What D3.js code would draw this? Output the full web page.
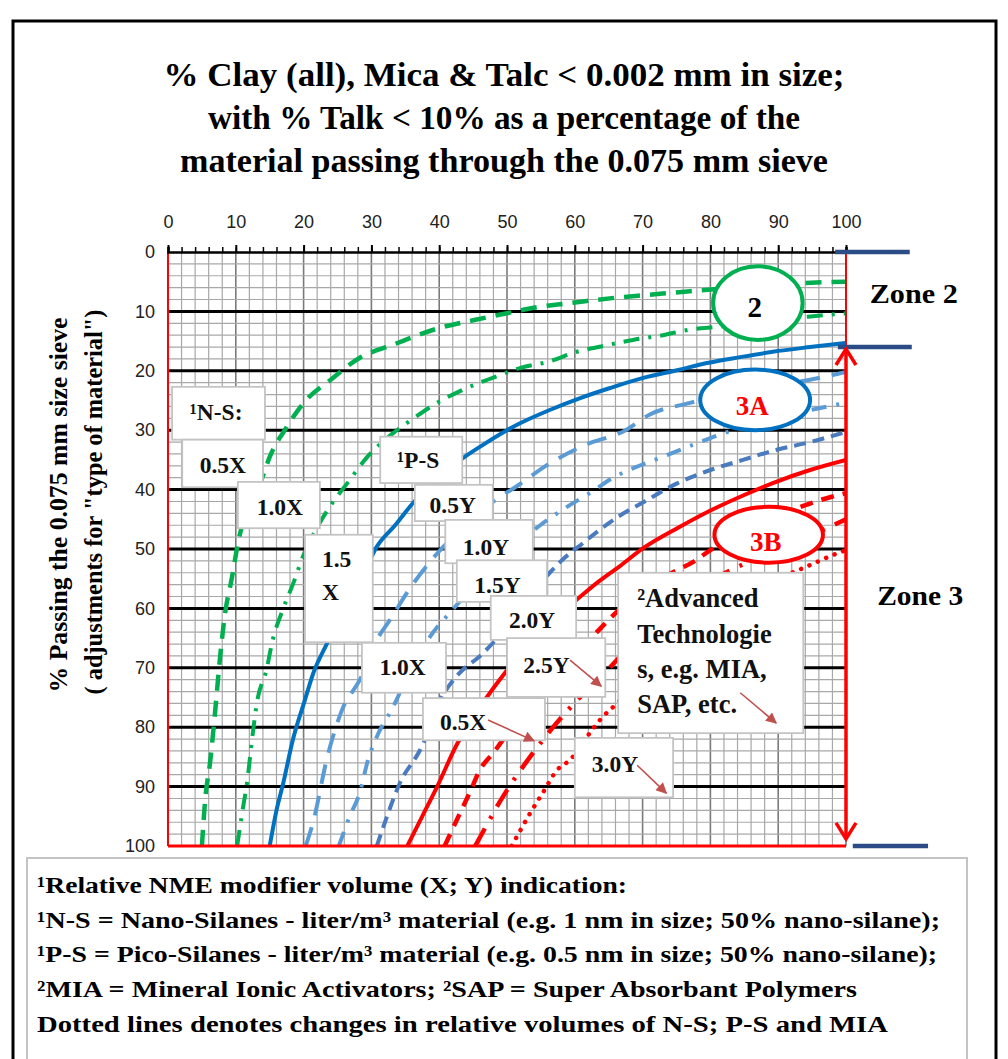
<!DOCTYPE html>
<html><head><meta charset="utf-8">
<script src="https://cdn.jsdelivr.net/npm/d3@7"></script>
<style>body{margin:0;background:#fff}svg{display:block}</style>
</head><body>
<svg id="c" width="1008" height="1059"></svg>
<script>
// ---------------- DATA ----------------
const xTickValues = [0,10,20,30,40,50,60,70,80,90,100];
const yTickValues = [0,10,20,30,40,50,60,70,80,90,100];

// [% clay etc. (x), % passing 0.075 mm (y)]
const nsHalfX   = [[5,100],[5.5,92],[6.2,86],[6.9,78],[7.7,68],[8.4,61],[9.4,55],[10.5,48],[12,43],[13.9,38],[15,34.5],[17.5,29.5],[20,25.4],[24,21.5],[28.3,17.8],[33,15.7],[40,12.8],[45,11.5],[50,10.3],[55,9.2],[60,8.5],[66,7.7],[71,7.2],[77,6.6],[85,5.9],[94,5.2],[100,5]];
const nsOneX    = [[10.2,100],[11,94],[11.7,89],[12.4,82],[13.1,76],[14.6,70],[15.3,66],[17,60],[18.4,56],[20,51],[21.7,47],[24.2,42.3],[26.4,39],[29.4,34.5],[33.2,30.5],[36.1,28.1],[39.7,25.4],[43.5,23.2],[49,20.7],[52,19.5],[56,18.5],[60.3,16.8],[64.7,15.7],[68.6,14.8],[73,14],[77.3,13],[81,12.6],[88,11.7],[94.4,10.9],[100,10.3]];
const nsOneHalfX= [[15,100],[16,94],[17,89.4],[18.4,82.2],[20.2,75.4],[21.4,71],[23.5,65.8],[26,60],[28.5,55],[30.8,49.6],[33.5,46],[36.1,42.3],[40,38],[43.5,34.7],[46,32.8],[50,30],[52,28.8],[56.3,26.6],[60.8,24.6],[65.2,22.9],[70.1,21.2],[75.1,19.9],[79.5,18.7],[84.4,17.7],[89.2,16.8],[94.7,16],[100,15.3]];
const psHalfY   = [[20.3,100],[21.4,96],[23.5,85],[25.7,77],[28.3,72],[30.8,65.3],[32.7,62],[35.7,56.6],[39.9,50.5],[44,46],[48.2,41.8],[51.5,39.4],[56,35.8],[61.5,32.5],[67.5,30],[71,27.4],[77,25.4],[84,23.5],[90.3,22.4],[94.7,21.5],[100,20.2]];
const psOneY    = [[25.2,100],[26.8,95],[28.3,91],[29.5,85.5],[30.8,81.6],[33.2,76.6],[35.5,71],[38.5,65],[42.3,59.8],[46,55],[50,50.5],[54.9,46],[58.3,43.3],[62.2,40.6],[65.8,37.9],[69.7,35.9],[73.6,34.2],[78,32.2],[82,30.5],[88,28.5],[94,26.8],[100,25.4]];
const psOneHalfY= [[30.8,100],[32,96],[34.2,89.4],[37.2,83.8],[40.6,74.5],[42.5,71.5],[46.5,67.5],[50,63],[53,58],[56.3,54],[58,52],[61.2,49],[64,46.5],[66.5,44.5],[70.3,42],[75,39],[80,36.7],[84.8,35],[89.8,33.3],[94.7,32],[100,30.3]];
const psTwoY    = [[35.3,100],[37.5,95],[39.7,90],[42.7,82.7],[45,78.5],[47,75],[50,70.4],[53,66],[56.5,62],[60.4,58.4],[63.5,55.5],[66.5,53],[70.3,49.7],[75.1,46.5],[79.5,43.8],[84.4,41.2],[89.2,38.9],[94.7,36.7],[100,35]];
const psTwoHalfY= [[40.8,100],[42.6,95.6],[44.5,91],[46,87.2],[48,84.3],[52,78],[56,73],[60,68],[64,63.1],[66.2,60.6],[70,57],[74,54.2],[77.4,52.2],[80,50.2],[84,47.5],[88,45.3],[92.8,43.1],[97.9,41.2],[100,40.6]];
const mia       = [[45.3,100],[47,96.5],[48.5,93.4],[50,90.6],[53.4,85],[56.8,80],[60.8,74.9],[65.2,69.9],[68,66.5],[72,62],[76,58],[80,55.3],[84.8,52.6],[90,50],[96.6,46.8],[100,45]];
const psThreeY  = [[50.7,100],[53.4,94.5],[55.3,91],[57.4,87.2],[59.3,85.5],[62.2,81],[63.7,78.8],[66.2,76],[70,71.5],[75,66],[80,61],[86,57],[93.7,53.2],[98.8,50.7],[100,50.2]];

const seriesData = [nsHalfX, nsOneX, nsOneHalfX, psHalfY, psOneY, psOneHalfY, psTwoY, psTwoHalfY, mia, psThreeY];

const titleLines = ["% Clay (all), Mica & Talc < 0.002 mm in size;","with % Talk < 10% as a percentage of the","material passing through the 0.075 mm sieve"];
const yTitleLines = ["% Passing the 0.075 mm size sieve","( adjustments for \"type of material\")"];
const noteLines = ["¹Relative NME modifier volume (X; Y) indication:","¹N-S = Nano-Silanes - liter/m³ material (e.g. 1 nm in size; 50% nano-silane);","¹P-S = Pico-Silanes - liter/m³ material (e.g. 0.5 nm in size; 50% nano-silane);","²MIA = Mineral Ionic Activators; ²SAP = Super Absorbant Polymers","Dotted lines denotes changes in relative volumes of N-S; P-S and MIA"];
const zoneLabels = ["Zone 2","Zone 3"];
const ellipseLabels = ["2","3A","3B"];
const boxLabels = [["¹N-S:"],["0.5X"],["1.0X"],["¹P-S"],["0.5Y"],["1.0Y"],["1.5Y"],["2.0Y"],["2.5Y"],["1.5","X"],["1.0X"],["0.5X"],["²Advanced","Technologie","s, e.g. MIA,","SAP, etc."],["3.0Y"]];

// ---------------- STYLES / LAYOUT ----------------
const seriesStyle = [
  {c:"#00B050", w:4.5, d:"16,10"},
  {c:"#00B050", w:4,   d:"16,9,3,9"},
  {c:"#0070C0", w:4,   d:null},
  {c:"#5B9BD5", w:4,   d:"20,12"},
  {c:"#5B9BD5", w:4,   d:"15,10,3,10"},
  {c:"#4A7BBF", w:4,   d:"12,7"},
  {c:"#FF0000", w:4,   d:null},
  {c:"#FF0000", w:4.5, d:"13,9"},
  {c:"#FF0000", w:4.5, d:"20,11,3,11"},
  {c:"#FF0000", w:4.5, d:"0.1,9", cap:"round"}
];
const boxLayout = [
  {b:[0.6,22.7,14.3,31.6], a:"middle", tx:7.1,  ty:[28.3]},
  {b:[2.1,31.6,14.0,39.6], a:"middle", tx:8.1,  ty:[37.2]},
  {b:[10.3,38.7,22.4,46.5],a:"middle", tx:16.5, ty:[44.3]},
  {b:[31.3,31.1,43.4,38.9],a:"middle", tx:36.9, ty:[36.4]},
  {b:[36.4,39.2,47.9,45.3],a:"middle", tx:42.0, ty:[43.9]},
  {b:[40.9,45.1,53.8,52.4],a:"middle", tx:46.9, ty:[51.0]},
  {b:[42.6,51.9,55.9,58.9],a:"middle", tx:48.6, ty:[57.4]},
  {b:[47.6,57.9,60.2,65.3],a:"middle", tx:53.7, ty:[63.3]},
  {b:[50.0,65.0,64.5,74.9],a:"start",  tx:52.4, ty:[70.9]},
  {b:[20.2,47.6,30.2,65.7],a:"start",  tx:22.7, ty:[53.0,58.6]},
  {b:[28.6,65.8,41.0,74.2],a:"middle", tx:34.6, ty:[71.2]},
  {b:[37.6,75.1,55.6,82.2],a:"start",  tx:40.1, ty:[80.5]},
  {b:[66.4,54.0,93.7,81.0],a:"start",  tx:69.2, ty:[59.8,65.8,71.7,77.6], fs:26.5},
  {b:[60.0,81.8,74.5,91.8],a:"start",  tx:62.5, ty:[87.5]}
];
const arrowLayout = [
  [[59.3,68.7],[63.9,73.1]],
  [[47.2,78.8],[54.0,82.3]],
  [[84.4,74.2],[89.7,79.3]],
  [[69.2,86.4],[73.5,91.1]]
];
const ellipseLayout = [
  {cx:87.0, cy:8.6,  rx:6.6, ry:6.2, c:"#00B050", tc:"#000", ty:10.9},
  {cx:86.6, cy:24.9, rx:8.1, ry:5.1, c:"#0070C0", tc:"#FF0000", ty:27.4},
  {cx:88.6, cy:47.6, rx:8.0, ry:4.7, c:"#FF0000", tc:"#FF0000", ty:50.3}
];

const x = d3.scaleLinear().domain([0,100]).range([168,846]);
const y = d3.scaleLinear().domain([0,100]).range([252,846]);
const serif = "Liberation Serif, serif";
const sans = "Liberation Sans, sans-serif";

const svg = d3.select("#c");

// outer frame
svg.append("rect").attr("x",13).attr("y",21).attr("width",983).attr("height",1100)
  .attr("fill","none").attr("stroke","#000").attr("stroke-width",3);

// title
svg.append("g").selectAll("text").data(titleLines).join("text")
  .attr("x",504).attr("y",(d,i)=>86+i*43)
  .attr("text-anchor","middle").attr("font-family",serif).attr("font-weight","bold")
  .attr("font-size",33).attr("textLength",(d,i)=>[681,592,648][i]).attr("lengthAdjust","spacingAndGlyphs")
  .text(d=>d);

// grid
const grid = svg.append("g");
const minor = d3.range(0,101,2);
grid.selectAll(".vm").data(minor).join("line")
  .attr("x1",d=>x(d)).attr("x2",d=>x(d)).attr("y1",y(0)).attr("y2",y(100))
  .attr("stroke",d=>d%10===0?"#7a7a7a":"#a8a8a8").attr("stroke-width",d=>d%10===0?1.6:1.2);
grid.selectAll(".hm").data(minor.filter(d=>d%10!==0)).join("line")
  .attr("x1",x(0)).attr("x2",x(100)).attr("y1",d=>y(d)).attr("y2",d=>y(d))
  .attr("stroke","#a8a8a8").attr("stroke-width",1.2);
grid.selectAll(".hM").data(yTickValues.filter(d=>d>0&&d<100)).join("line")
  .attr("x1",x(0)).attr("x2",x(100)).attr("y1",d=>y(d)).attr("y2",d=>y(d))
  .attr("stroke","#000").attr("stroke-width",3);

// clip
svg.append("clipPath").attr("id","plotclip").append("rect")
  .attr("x",x(0)).attr("y",y(0)).attr("width",x(100)-x(0)).attr("height",y(100)-y(0));

const line = d3.line().x(d=>x(d[0])).y(d=>y(d[1])).curve(d3.curveMonotoneX);
svg.append("g").attr("clip-path","url(#plotclip)").selectAll("path").data(seriesData).join("path")
  .attr("d",line).attr("fill","none")
  .attr("stroke",(d,i)=>seriesStyle[i].c).attr("stroke-width",(d,i)=>seriesStyle[i].w)
  .attr("stroke-dasharray",(d,i)=>seriesStyle[i].d).attr("stroke-linecap",(d,i)=>seriesStyle[i].cap||"butt");

// plot borders
svg.append("line").attr("x1",x(0)).attr("x2",x(0)).attr("y1",y(0)).attr("y2",y(100)).attr("stroke","#FF0000").attr("stroke-width",2);
svg.append("line").attr("x1",x(0)).attr("x2",x(100)).attr("y1",y(100)).attr("y2",y(100)).attr("stroke","#FF0000").attr("stroke-width",3);
svg.append("line").attr("x1",x(100)).attr("x2",x(100)).attr("y1",y(0)).attr("y2",y(16)).attr("stroke","#FF0000").attr("stroke-width",2);

// ellipses
const eg = svg.append("g");
eg.selectAll("ellipse").data(ellipseLayout).join("ellipse")
  .attr("cx",d=>x(d.cx)).attr("cy",d=>y(d.cy))
  .attr("rx",d=>x(d.rx)-x(0)).attr("ry",d=>y(d.ry)-y(0))
  .attr("fill","#fff").attr("stroke",d=>d.c).attr("stroke-width",4);
eg.selectAll("text").data(ellipseLayout).join("text")
  .attr("x",d=>x(d.cx)-3).attr("y",d=>y(d.ty)).attr("text-anchor","middle")
  .attr("font-family",serif).attr("font-weight","bold").attr("font-size",(d,i)=>i===0?29:27)
  .attr("fill",d=>d.tc).text((d,i)=>ellipseLabels[i]);

// label boxes
const bg = svg.append("g");
boxLayout.forEach((L,i)=>{
  const g = bg.append("g");
  g.append("rect").attr("x",x(L.b[0])).attr("y",y(L.b[1]))
    .attr("width",x(L.b[2])-x(L.b[0])).attr("height",y(L.b[3])-y(L.b[1]))
    .attr("fill","#fff").attr("stroke","#c4c4c4").attr("stroke-width",1.8);
  g.selectAll("text").data(boxLabels[i]).join("text")
    .attr("x",x(L.tx)).attr("y",(d,j)=>y(L.ty[j])).attr("text-anchor",L.a)
    .attr("font-family",serif).attr("font-weight","bold").attr("font-size",L.fs||23.5)
    .attr("fill","#111").text(d=>d);
});

// arrows
const defs = svg.append("defs");
defs.append("marker").attr("id","ah").attr("viewBox","0 0 10 10").attr("refX",9).attr("refY",5)
  .attr("markerWidth",13).attr("markerHeight",11).attr("markerUnits","userSpaceOnUse").attr("orient","auto")
  .append("path").attr("d","M0,0L10,5L0,10Z").attr("fill","#C0504D");
svg.append("g").selectAll("line").data(arrowLayout).join("line")
  .attr("x1",d=>x(d[0][0])).attr("y1",d=>y(d[0][1])).attr("x2",d=>x(d[1][0])).attr("y2",d=>y(d[1][1]))
  .attr("stroke","#C0504D").attr("stroke-width",1.6).attr("marker-end","url(#ah)");

// top axis
const ax = svg.append("g").attr("transform",`translate(0,${y(0)})`);
ax.call(d3.axisTop(x).tickValues(d3.range(0,101,2)).tickSize(5).tickFormat(""));
ax.call(g=>g.select(".domain").attr("stroke","#000").attr("stroke-width",2.5));
ax.selectAll(".tick line").attr("stroke","#000").attr("stroke-width",1.5);
const axL = svg.append("g").attr("transform",`translate(0,${y(0)})`)
  .call(d3.axisTop(x).tickValues(xTickValues).tickSize(7).tickPadding(17));
axL.select(".domain").remove();
axL.selectAll(".tick line").attr("stroke","#000").attr("stroke-width",2);
axL.selectAll("text").attr("font-family",sans).attr("font-size",18).attr("fill","#222");

// left axis labels
const ay = svg.append("g").attr("transform",`translate(${x(0)},0)`)
  .call(d3.axisLeft(y).tickValues(yTickValues).tickSize(0).tickPadding(13));
ay.select(".domain").remove();
ay.selectAll("text").attr("font-family",sans).attr("font-size",18).attr("fill","#222");

// y title
svg.append("g").selectAll("text").data(yTitleLines).join("text")
  .attr("transform",(d,i)=>`translate(${[67,102][i]},${[505,502][i]}) rotate(-90)`)
  .attr("text-anchor","middle").attr("font-family",serif).attr("font-weight","bold").attr("font-size",26)
  .attr("textLength",(d,i)=>[375,385][i]).attr("lengthAdjust","spacingAndGlyphs").text(d=>d);

// zone markers
const zc = "#2B4C86";
[[0,98.4,109.4],[16,98.8,109.7],[100,101,112.1]].forEach(z=>{
  svg.append("line").attr("x1",x(z[1])).attr("x2",x(z[2])).attr("y1",y(z[0])).attr("y2",y(z[0]))
    .attr("stroke",zc).attr("stroke-width",4.5);
});
svg.append("g").selectAll("text").data(zoneLabels).join("text")
  .attr("x",(d,i)=>x([103.5,104.6][i])).attr("y",(d,i)=>y([8.6,59.4][i]))
  .attr("font-family",serif).attr("font-weight","bold").attr("font-size",27)
  .attr("textLength",(d,i)=>[88,86][i]).attr("lengthAdjust","spacingAndGlyphs").text(d=>d);

// red double arrow
const ra = svg.append("g").attr("stroke","#FF0000").attr("stroke-width",3.5).attr("fill","none");
const xt = x(100), yTop = y(16), yBot = y(98.8);
ra.append("line").attr("x1",xt).attr("x2",xt).attr("y1",yTop+1).attr("y2",yBot-1);
ra.append("path").attr("d",`M${xt-10},${yTop+18}L${xt},${yTop+2}L${xt+10},${yTop+18}`);
ra.append("path").attr("d",`M${xt-10},${yBot-16}L${xt},${yBot}L${xt+10},${yBot-16}`);

// notes box
svg.append("rect").attr("x",27).attr("y",858).attr("width",940).attr("height",260)
  .attr("fill","#fff").attr("stroke","#c4c4c4").attr("stroke-width",2);
svg.append("g").selectAll("text").data(noteLines).join("text")
  .attr("x",37).attr("y",(d,i)=>893+i*34.7)
  .attr("font-family",serif).attr("font-weight","bold").attr("font-size",23)
  .attr("textLength",(d,i)=>[590,903,900,820,851][i]).attr("lengthAdjust","spacingAndGlyphs")
  .text(d=>d);
</script>
</body></html>
